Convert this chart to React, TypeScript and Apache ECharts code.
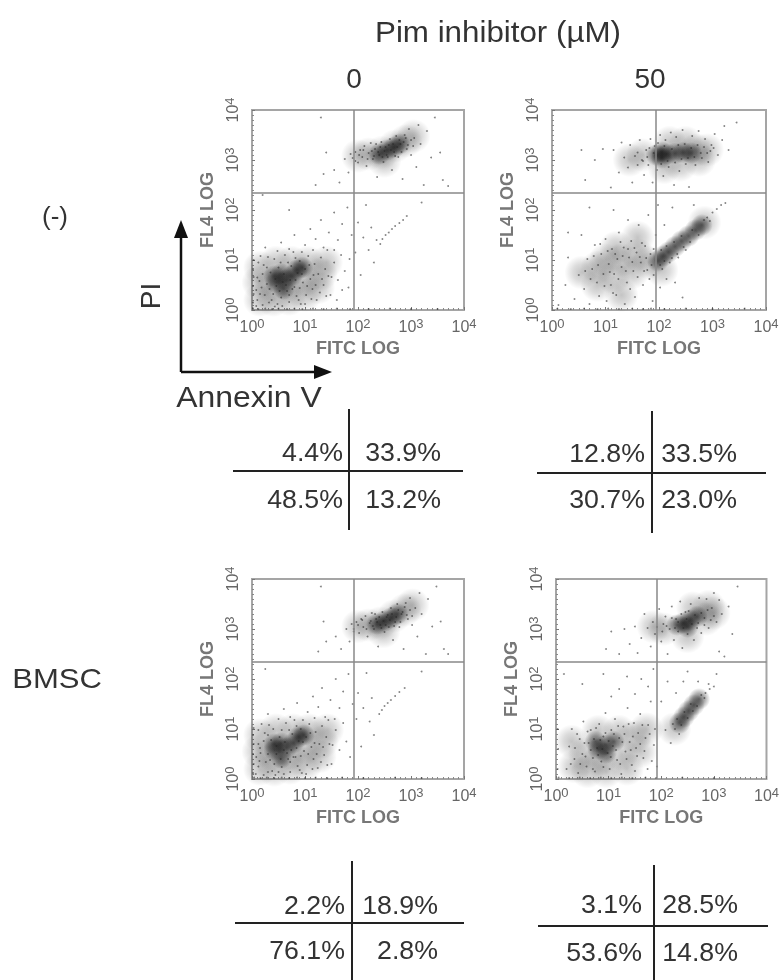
import React, { useEffect, useRef } from "react";
import * as echarts from "echarts";

const decades = [0, 1, 2, 3, 4];
const xAxisName = "FITC LOG";
const yAxisName = "FL4 LOG";
const title = "Pim inhibitor (µM)";
const doses = ["0", "50"];
const rowLabels = ["(-)", "BMSC"];
const pctA = ["4.4%", "33.9%", "48.5%", "13.2%"];
const pctB = ["12.8%", "33.5%", "30.7%", "23.0%"];
const pctC = ["2.2%", "18.9%", "76.1%", "2.8%"];
const pctD = ["3.1%", "28.5%", "53.6%", "14.8%"];
// quadrant gates, [FITC decade, FL4 decade]
const gateA = [1.92, 2.34];
const gateB = [1.94, 2.34];
const gateC = [1.92, 2.34];
const gateD = [1.92, 2.34];

// densest regions of each dot plot
const coreA = [[.45,.55],[.55,.72],[.65,.6],[.75,.68],[.85,.8],[.95,.85],[.6,.42],[.42,.68],[2.4,3.12],[2.55,3.2],[2.68,3.25],[2.78,3.32]];
const haloA = [[.15,.2],[.4,.2],[.7,.22],[1,.3],[1.25,.45],[.12,.55],[.35,.5],[.7,.5],[1,.6],[1.3,.72],[.15,.85],[.45,.95],[.75,.95],[1.05,.95],[1.4,.95],[2,3.08],[2.2,3.12],[2.45,3.15],[2.7,3.28],[2.9,3.38],[3.05,3.48],[2.5,2.98]];
const coreB = [[1.95,3.1],[2.05,3.16],[2.15,3.12],[2.3,3.13],[2.05,3.04],[2.45,3.15],[2.6,3.14],[1.98,.98],[2.08,1.08],[2.18,1.16],[2.3,1.27],[2.42,1.38],[2.55,1.48],[2.68,1.6],[2.8,1.7]];
const haloB = [[1.7,3.1],[1.45,3],[2.7,3.2],[2.9,3.2],[2.2,3.35],[2.5,3.35],[2.1,2.85],[2.4,2.9],[2.75,3],[1.3,1],[1,1],[.85,.85],[1.6,1.1],[1.2,1.25],[1.5,.75],[1.15,.65],[.85,.5],[1.3,.3],[1.8,.95],[2.05,.8],[2.85,1.75],[.55,.75],[1.6,1.45]];
const coreC = [[.42,.58],[.55,.72],[.65,.62],[.78,.72],[.88,.84],[.98,.88],[.55,.42],[.42,.7],[2.36,3.1],[2.5,3.16],[2.63,3.22],[2.74,3.3]];
const haloC = [[.15,.2],[.42,.18],[.72,.22],[1.02,.3],[1.28,.45],[.12,.55],[.35,.5],[.72,.5],[1.02,.62],[1.32,.74],[.15,.88],[.45,.98],[.78,.98],[1.08,.98],[1.42,.98],[2,3.05],[2.2,3.08],[2.42,3.12],[2.68,3.26],[2.88,3.38],[3.03,3.48],[2.48,2.95]];
const coreD = [[2.3,3.08],[2.42,3.12],[2.55,3.18],[2.68,3.25],[2.5,3.04],[2.35,1.12],[2.43,1.24],[2.52,1.36],[2.62,1.48],[2.72,1.6],[.8,.6],[.95,.68],[1.1,.75],[.95,.52],[.75,.75]];
const haloD = [[2.05,3],[1.85,3.05],[2.85,3.2],[3,3.32],[2.6,3.42],[2.9,3.45],[2.5,2.85],[.55,.5],[.85,.4],[1.25,.5],[1.2,.95],[.8,.95],[1.5,.85],[.35,.25],[.95,.15],[.3,.75],[1.6,.55],[1.72,1],[2.25,1],[.6,.15],[1.35,.2]];

// individual events, read as [FITC decade, FL4 decade]
const dotsA = [
[.02,.03],[.12,.02],[.25,.03],[.38,.02],[.5,.03],[.66,.02],[.8,.03],[.95,.02],[1.15,.03],[1.35,.02],[1.6,.03],[1.85,.02],[2.2,.02],[2.6,.03],[3,.02],[3.5,.02],
[.02,.15],[.03,.32],[.02,.48],[.03,.66],[.02,.82],[.03,1],[.1,.2],[.18,.45],[.1,.65],[.22,.9],[.32,.15],[.28,.52],[.35,.75],[.4,.32],[.42,1.02],[.48,.12],[.46,.48],[.5,.85],[.55,.25],[.58,.56],[.6,.72],[.62,1.1],[.66,.38],[.7,.16],[.72,.6],[.74,.88],[.78,1.16],[.8,.46],[.84,.28],[.86,.74],[.9,.98],[.92,.12],[.96,.55],[1,.82],[1.02,.3],[1.06,1.08],[1.1,.62],[1.14,.42],[1.18,.92],[1.22,.2],[1.25,.72],[1.3,1.05],[1.35,.5],[1.38,.82],[1.42,1.2],[1.48,.3],[1.5,.66],[1.55,.95],[1.62,.6],[1.68,1.1],[1.75,.78],[1.82,.45],[1.84,1.02],
[.25,1.25],[.55,1.35],[.8,1.5],[1,1.3],[1.1,1.62],[1.2,1.42],[1.3,1.8],[1.45,1.55],[1.55,1.95],[1.62,1.4],[1.7,1.72],[1.8,2.05],[1.88,1.5],[1.95,1.15],[2,1.75],[2.05,.7],[2.1,1.45],[2.15,2.1],[2.2,1.2],[2.25,1.65],[2.3,.95],[2.35,1.4],[2.42,1.32],[2.46,1.42],[2.52,1.5],[2.58,1.55],[2.64,1.62],[2.7,1.68],[2.78,1.74],[2.85,1.8],[2.92,1.88],[3.2,2.15],[.2,2.3],[.7,2],
[1.2,2.5],[1.35,2.72],[1.4,3.15],[1.3,3.85],[1.55,2.8],[1.65,2.55],[1.75,3.02],[1.82,2.75],[1.86,3.12],[1.9,3.04],[1.95,3.16],[2,2.95],[2.04,3.2],[2.08,3.06],[2.12,3.28],[2.16,2.88],[2.2,3.14],[2.24,3.34],[2.28,3.02],[2.32,3.22],[2.36,2.66],[2.4,3.1],[2.44,3.36],[2.48,2.96],[2.52,3.26],[2.56,3.06],[2.6,3.42],[2.64,2.8],[2.68,3.16],[2.72,3.48],[2.76,3.06],[2.8,3.32],[2.84,2.62],[2.88,3.5],[2.92,3.22],[2.96,3.62],[3,3.1],[3.06,3.44],[3.1,2.86],[3.14,3.7],[3.18,3.32],[3.24,2.5],[3.3,3.58],[3.38,3.05],[3.45,3.85],[3.55,3.15],[3.6,2.6],[3.7,2.48],
[.08,.08],[.15,.32],[.2,.1],[.24,.3],[.08,.4],[.14,.58],[.2,.72],[.28,.85],[.33,.42],[.37,.2],[.43,.07],[.44,.62],[.52,.38],[.54,.95],[.57,.08],[.64,.5],[.68,.95],[.7,.3],[.76,.42],[.82,.6],[.82,1.04],[.88,.2],[.9,.44],[.94,.72],[1,.12],[1.04,.48],[1.08,.9],[1.12,.22],[1.16,.7],[1.2,.5],[1.28,.35],[1.32,.62],[1.4,.28],[1.44,.68],[.12,.95],[.16,1.08],[.3,1.06],[.48,1.18],[.7,1.22],[.94,1.16],[1.15,1.2],[1.35,1.25],[1.55,1.2],[1.7,.4],[1.6,.2],
[1.95,2.98],[2.02,3.1],[2.1,3.2],[2.18,3.02],[2.26,3.18],[2.3,3.08],[2.34,3.32],[2.38,3.16],[2.42,3.26],[2.46,3.06],[2.5,3.18],[2.54,3.1],[2.58,3.3],[2.62,3.2],[2.66,3.32],[2.7,3.08],[2.74,3.26],[2.78,3.4],[2.82,3.16],[2.86,3.36],[2.9,3.44],[2.94,3.3],[3,3.4],[3.04,3.28]];
const dotsB = [
[.1,.03],[.35,.02],[.6,.03],[.85,.02],[1.05,.03],[1.25,.02],[1.5,.03],[1.7,.02],[1.85,.03],[2.1,.02],[2.5,.03],[3,.02],[3.6,.03],
[.12,.1],[.25,.5],[.3,1.05],[.42,.22],[.5,.7],[.55,1.5],[.6,.42],[.66,1.02],[.7,.12],[.75,.82],[.8,1.3],[.84,.55],[.88,.28],[.92,1.12],[.96,.72],[1,1.42],[1.02,.18],[1.06,.92],[1.1,.5],[1.12,1.22],[1.16,.72],[1.2,.3],[1.22,1.02],[1.25,1.55],[1.3,.86],[1.34,1.25],[1.36,.12],[1.4,.55],[1.44,1.05],[1.48,1.38],[1.52,.78],[1.55,.26],[1.58,1.15],[1.62,1.7],[1.66,.95],[1.7,.5],[1.74,1.28],[1.78,.8],[1.8,1.9],[1.84,1.12],[1.88,.18],[1.9,.7],[1.94,1.5],[1.98,2.1],[2.02,.45],[2.06,.82],[2.1,1.7],[2.14,.62],[2.2,.95],[2.25,2.05],[2.3,.55],[2.36,1.05],[2.44,.25],[2.5,1.2],[2.9,1.85],[3,1.95],[3.08,2.02],[3.16,2.1],[3.24,2.14],[2.65,2.1],[.3,1.55],[.7,2.05],[1.15,2],[1.42,1.8],
[.55,3.2],[.62,2.6],[.8,3],[.95,3.22],[1.1,2.45],[1.15,3.2],[1.25,2.75],[1.3,3.35],[1.35,3.05],[1.42,2.85],[1.46,3.3],[1.5,2.55],[1.55,3.08],[1.6,2.9],[1.64,3.4],[1.68,3],[1.72,2.7],[1.76,3.2],[1.8,2.9],[1.84,3.42],[1.88,2.55],[1.92,3.28],[1.96,2.8],[2.02,3.5],[2.08,2.68],[2.12,3.4],[2.18,2.86],[2.22,3.55],[2.28,2.5],[2.32,3.46],[2.38,2.78],[2.44,3.6],[2.5,2.92],[2.56,2.46],[2.62,3.48],[2.68,2.9],[2.74,3.58],[2.8,3.04],[2.86,3.42],[2.92,2.96],[2.98,3.3],[3.04,3.52],[3.1,3.1],[3.18,3.4],[3.22,3.68],[3.3,3.2],[3.45,3.75],
[.62,.78],[.72,.62],[.78,1.08],[.86,.9],[.9,1.32],[.98,.48],[1.04,1.18],[1.08,.76],[1.14,.34],[1.18,1.12],[1.24,.62],[1.28,1.36],[1.32,1.08],[1.38,.78],[1.42,1.22],[1.46,.42],[1.5,.96],[1.54,1.24],[1.6,.66],[1.64,1.06],[1.68,1.34],[1.72,.78],[1.76,1.04],[1.82,.62],[1.86,.9],[1.9,1.22],
[1.6,3.15],[1.7,2.98],[1.78,3.06],[1.82,3.24],[1.9,3.14],[1.98,3.34],[2.04,2.92],[2.1,3.28],[2.16,2.98],[2.24,3.22],[2.3,2.95],[2.36,3.3],[2.42,3.02],[2.48,3.32],[2.54,3.04],[2.6,3.24],[2.66,3.06],[2.72,3.3],[2.78,3.14],[2.84,3.26],[2.9,3.14],[2.96,3.18],[3.02,3.24],
[2.02,.9],[2.1,.98],[2.04,1.2],[2.14,1.28],[2.24,1.04],[2.28,1.36],[2.34,1.12],[2.42,1.48],[2.46,1.26],[2.58,1.36],[2.62,1.6],[2.74,1.5],[2.84,1.8],[2.95,1.78]];
const dotsC = [
[.04,.03],[.16,.02],[.28,.03],[.42,.02],[.56,.03],[.7,.02],[.85,.03],[1,.02],[1.2,.03],[1.42,.02],[1.7,.03],[2.1,.02],[2.7,.03],[3.2,.02],
[.02,.12],[.03,.3],[.02,.5],[.03,.7],[.02,.88],[.03,1.02],[.12,.25],[.16,.52],[.12,.7],[.24,.92],[.3,.14],[.3,.5],[.36,.78],[.42,.3],[.4,1],[.5,.14],[.46,.5],[.52,.84],[.56,.24],[.6,.58],[.62,.74],[.64,1.12],[.68,.4],[.72,.14],[.74,.58],[.76,.9],[.8,1.18],[.82,.44],[.86,.26],[.88,.76],[.92,1],[.94,.12],[.98,.56],[1.02,.84],[1.04,.28],[1.08,1.1],[1.12,.64],[1.16,.4],[1.2,.94],[1.24,.22],[1.27,.7],[1.32,1.06],[1.36,.48],[1.4,.84],[1.44,1.18],[1.5,.3],[1.52,.68],[1.58,.98],[1.65,.58],[1.72,1.12],[1.78,.75],[1.85,.44],
[.3,1.3],[.6,1.4],[.85,1.52],[1.05,1.34],[1.15,1.65],[1.25,1.44],[1.32,1.82],[1.48,1.58],[1.58,2],[1.65,1.42],[1.72,1.75],[1.82,2.1],[1.9,1.5],[1.97,1.2],[2,1.72],[2.06,.65],[2.1,1.42],[2.16,2.12],[2.22,1.15],[2.26,1.62],[2.3,.88],[2.4,1.3],[2.45,1.38],[2.5,1.46],[2.56,1.52],[2.62,1.58],[2.7,1.66],[2.78,1.74],[2.88,1.82],[3.2,2.15],[.25,2.2],
[1.25,2.55],[1.4,2.75],[1.35,3.15],[1.3,3.85],[1.58,2.85],[1.68,2.6],[1.78,3],[1.84,2.75],[1.88,3.1],[1.92,3],[1.97,3.14],[2.02,2.92],[2.06,3.2],[2.1,3.04],[2.14,3.26],[2.18,2.85],[2.22,3.12],[2.26,3.32],[2.3,3],[2.34,3.2],[2.38,2.65],[2.42,3.08],[2.46,3.34],[2.5,2.94],[2.54,3.24],[2.58,3.04],[2.62,3.42],[2.66,2.78],[2.7,3.14],[2.74,3.5],[2.78,3.04],[2.82,3.3],[2.86,2.6],[2.9,3.52],[2.94,3.2],[2.98,3.62],[3.02,3.08],[3.08,3.42],[3.12,2.85],[3.16,3.72],[3.2,3.3],[3.28,2.5],[3.32,3.6],[3.4,3.05],[3.48,3.85],[3.56,3.15],[3.62,2.6],[3.7,2.5],
[.07,.1],[.14,.36],[.22,.08],[.26,.34],[.08,.44],[.15,.62],[.22,.76],[.3,.88],[.34,.38],[.38,.16],[.44,.08],[.46,.66],[.54,.4],[.56,.98],[.6,.1],[.66,.52],[.7,.98],[.72,.34],[.78,.44],[.84,.62],[.84,1.06],[.9,.18],[.92,.46],[.96,.74],[1.02,.1],[1.06,.5],[1.1,.92],[1.14,.2],[1.18,.72],[1.22,.5],[1.3,.34],[1.34,.64],[1.42,.28],[1.46,.7],[.12,.98],[.18,1.1],[.32,1.08],[.5,1.2],[.72,1.24],[.96,1.18],[1.18,1.22],[1.38,1.24],[1.56,1.2],
[1.92,2.95],[2,3.08],[2.08,3.18],[2.16,3],[2.24,3.16],[2.28,3.06],[2.32,3.3],[2.36,3.14],[2.4,3.24],[2.44,3.02],[2.48,3.16],[2.52,3.08],[2.56,3.28],[2.6,3.18],[2.64,3.3],[2.68,3.06],[2.72,3.24],[2.76,3.38],[2.8,3.14],[2.84,3.34],[2.88,3.44],[2.92,3.28],[2.98,3.38],[3.02,3.26]];
const dotsD = [
[.05,.03],[.25,.02],[.45,.03],[.65,.02],[.85,.03],[1.05,.02],[1.25,.03],[1.45,.02],[1.7,.03],[1.9,.02],[2.4,.03],[3,.02],
[.03,.2],[.04,.6],[.03,1],[.2,.2],[.25,.65],[.3,1],[.35,.4],[.42,.12],[.45,.8],[.5,.5],[.52,1.15],[.58,.25],[.62,.72],[.66,.98],[.7,.42],[.74,.15],[.78,.62],[.82,1.1],[.86,.35],[.9,.85],[.94,1.32],[.98,.52],[1.02,.2],[1.05,.98],[1.08,.66],[1.12,1.2],[1.16,.38],[1.2,.82],[1.24,.1],[1.28,1.05],[1.32,.55],[1.36,1.42],[1.4,.74],[1.44,.28],[1.48,1.12],[1.52,.62],[1.56,.92],[1.6,1.3],[1.66,.42],[1.7,.82],[1.75,1.08],[1.8,1.55],[1.86,.68],[1.88,1],[1.92,.25],
[.15,2.1],[.5,1.9],[.9,2.1],[1.05,1.65],[1.2,1.8],[1.35,2.05],[1.5,1.7],[1.62,2],[1.75,1.85],[1.85,2.2],[2,1.55],[2.08,.98],[2.12,1.95],[2.18,.72],[2.22,1.1],[2.28,1.72],[2.34,.9],[2.42,1.95],[2.5,2.15],[2.7,1.95],[2.9,1.9],[3,1.85],[2.84,1.72],[2.92,1.8],[3.05,2.1],
[.95,2.6],[1.05,2.95],[1.2,2.5],[1.3,3],[1.4,2.7],[1.5,3.05],[1.55,2.52],[1.62,2.82],[1.68,3.3],[1.74,3.02],[1.8,2.65],[1.84,3.14],[1.88,2.9],[1.92,3.04],[1.96,3.4],[2,2.75],[2.04,3.1],[2.08,3.25],[2.12,2.5],[2.16,3],[2.2,3.45],[2.24,2.78],[2.28,3.2],[2.32,2.95],[2.36,3.55],[2.4,2.62],[2.46,3.34],[2.5,2.9],[2.56,3.5],[2.62,2.78],[2.68,3.02],[2.72,3.62],[2.76,2.92],[2.82,3.08],[2.86,3.6],[2.9,3.02],[2.96,3.42],[3,3.72],[3.05,3.14],[3.1,3.58],[3.15,3.3],[3.2,2.45],[3.28,3.45],[3.35,2.9],[3.45,3.85],[3.1,2.55],
[.28,.3],[.36,.62],[.4,.9],[.46,.3],[.54,.72],[.56,.45],[.6,.95],[.66,.58],[.7,.2],[.72,.8],[.76,1.02],[.8,.48],[.84,.78],[.88,.6],[.9,.24],[.94,.92],[1,.76],[1.04,.44],[1.1,.9],[1.14,.58],[1.18,1.06],[1.22,.3],[1.26,.74],[1.3,.9],[1.34,.4],[1.38,1.1],[1.42,.58],[1.46,.85],[1.5,.16],[1.54,.46],[1.6,.7],[1.64,1.08],[1.68,.56],[1.74,.2],[1.78,.9],[1.82,.36],
[2.02,2.95],[2.1,3.06],[2.2,3.22],[2.26,3.02],[2.32,3.14],[2.38,3.3],[2.42,3.02],[2.48,3.2],[2.52,3.36],[2.58,3.1],[2.64,3.28],[2.7,3.12],[2.76,3.32],[2.82,3.22],[2.88,3.38],[2.94,3.18],[3,3.26],
[2.26,1],[2.3,1.2],[2.38,1.08],[2.44,1.34],[2.5,1.22],[2.56,1.5],[2.6,1.36],[2.68,1.46],[2.76,1.68],[2.82,1.62]];

const panelFrames = [
  { left: 252, top: 110, width: 212, height: 200 },
  { left: 552, top: 110, width: 214, height: 200 },
  { left: 252, top: 579, width: 212, height: 200 },
  { left: 556, top: 579, width: 212, height: 200 },
];
const tableFrames = [
  { cx: 349, cy: 471, y0: 409, y1: 530, x0: 233, x1: 463, dyU: -19, dyL: 29, ll: 343, rr: 441 },
  { cx: 652, cy: 473, y0: 411, y1: 533, x0: 537, x1: 766, dyU: -20, dyL: 27, ll: 645, rr: 737 },
  { cx: 352, cy: 923, y0: 861, y1: 980, x0: 235, x1: 464, dyU: -18, dyL: 28, ll: 345, rr: 438 },
  { cx: 654, cy: 926, y0: 865, y1: 980, x0: 538, x1: 768, dyU: -22, dyL: 27, ll: 642, rr: 738 },
];
const gates = [gateA, gateB, gateC, gateD];
const cores = [coreA, coreB, coreC, coreD];
const halos = [haloA, haloB, haloC, haloD];
const dots = [dotsA, dotsB, dotsC, dotsD];
const pcts = [pctA, pctB, pctC, pctD];

const FONT = "Liberation Sans, Arial, sans-serif";
const shade = (a: number) => ({
  type: "radial", x: 0.5, y: 0.5, r: 0.5,
  colorStops: [{ offset: 0, color: `rgba(10,10,10,${a})` }, { offset: 0.5, color: `rgba(10,10,10,${a * 0.6})` }, { offset: 1, color: "rgba(10,10,10,0)" }],
});

function buildOption() {
  const tickRich = {
    b: { fontSize: 16, color: "#666", fontFamily: FONT },
    s: { fontSize: 13, color: "#666", fontFamily: FONT, verticalAlign: "bottom", padding: [0, 0, 6, 0] },
  };
  const fmt = (v: number) => `{b|10}{s|${v}}`;
  const series: any[] = [];
  panelFrames.forEach((_, i) => {
    const base = { type: "scatter", xAxisIndex: i, yAxisIndex: i, clip: true, silent: true };
    series.push({ ...base, data: halos[i], symbolSize: 34, itemStyle: { color: shade(0.3) } });
    series.push({ ...base, data: cores[i], symbolSize: 22, itemStyle: { color: shade(0.72) } });
    series.push({
      ...base, data: dots[i], symbolSize: 1.9, itemStyle: { color: "#222", opacity: 0.55 },
      markLine: {
        silent: true, symbol: "none", animation: false, label: { show: false },
        lineStyle: { color: "#888", width: 1.5, type: "solid" },
        data: [{ xAxis: gates[i][0] }, { yAxis: gates[i][1] }],
      },
    });
  });
  const graphic: any[] = [];
  const text = (t: string, x: number, y: number, size: number, align = "center", rotation = 0, scaleX = 1) =>
    graphic.push({ type: "text", x, y, rotation, scaleX, style: { text: t, fontSize: size, fontFamily: FONT, fill: "#333", align, verticalAlign: "middle" } });
  text(title, 498, 32, 29, "center", 0, 1.08);
  text(doses[0], 354, 78, 28);
  text(doses[1], 650, 78, 28);
  text(rowLabels[0], 55, 216, 26);
  text(rowLabels[1], 57, 679, 27, "center", 0, 1.15);
  text("PI", 150, 296, 28, "center", Math.PI / 2);
  text("Annexin V", 249, 397, 29, "center", 0, 1.1);
  const ink = { stroke: "#111", lineWidth: 2.5 };
  graphic.push({ type: "line", shape: { x1: 181, y1: 372, x2: 181, y2: 236 }, style: ink });
  graphic.push({ type: "line", shape: { x1: 181, y1: 372, x2: 316, y2: 372 }, style: ink });
  graphic.push({ type: "polygon", shape: { points: [[181, 220], [174, 238], [188, 238]] }, style: { fill: "#111" } });
  graphic.push({ type: "polygon", shape: { points: [[332, 372], [314, 365], [314, 379]] }, style: { fill: "#111" } });
  tableFrames.forEach((f, i) => {
    const line = { stroke: "#222", lineWidth: 2 };
    graphic.push({ type: "line", shape: { x1: f.cx, y1: f.y0, x2: f.cx, y2: f.y1 }, style: line });
    graphic.push({ type: "line", shape: { x1: f.x0, y1: f.cy, x2: f.x1, y2: f.cy }, style: line });
    text(pcts[i][0], f.ll, f.cy + f.dyU, 25, "right", 0, 1.07);
    text(pcts[i][1], f.rr, f.cy + f.dyU, 25, "right", 0, 1.07);
    text(pcts[i][2], f.ll, f.cy + f.dyL - 1, 25, "right", 0, 1.07);
    text(pcts[i][3], f.rr, f.cy + f.dyL - 1, 25, "right", 0, 1.07);
  });
  return {
    animation: false,
    backgroundColor: "#fff",
    grid: panelFrames.map((f) => ({ ...f, show: true, borderColor: "#a5a5a5", borderWidth: 2, backgroundColor: "transparent" })),
    xAxis: panelFrames.map((_, i) => ({
      type: "value", gridIndex: i, min: decades[0], max: decades[4], interval: 1,
      name: xAxisName, nameLocation: "middle", nameGap: 29,
      nameTextStyle: { fontSize: 18, color: "#777", fontFamily: FONT, fontWeight: "bold" },
      axisLine: { show: false }, splitLine: { show: false },
      axisTick: { show: true, inside: true, length: 3, lineStyle: { color: "#777" } },
      minorTick: { show: true, splitNumber: 10, length: 2, lineStyle: { color: "#888" } },
      axisLabel: { formatter: fmt, rich: tickRich, margin: 7, hideOverlap: false, showMinLabel: true, showMaxLabel: true },
    })),
    yAxis: panelFrames.map((_, i) => ({
      type: "value", gridIndex: i, min: decades[0], max: decades[4], interval: 1,
      name: yAxisName, nameLocation: "middle", nameGap: 36,
      nameTextStyle: { fontSize: 18, color: "#777", fontFamily: FONT, fontWeight: "bold" },
      axisLine: { show: false }, splitLine: { show: false },
      axisTick: { show: true, inside: true, length: 3, lineStyle: { color: "#777" } },
      minorTick: { show: true, splitNumber: 10, length: 2, lineStyle: { color: "#888" } },
      axisLabel: { formatter: fmt, rich: tickRich, rotate: 90, margin: 10, hideOverlap: false, showMinLabel: true, showMaxLabel: true },
    })),
    series,
    graphic,
  };
}

export default function App() {
  const ref = useRef<HTMLDivElement>(null);
  useEffect(() => {
    const chart = echarts.init(ref.current!, null, { renderer: "svg" });
    chart.setOption(buildOption() as any);
    return () => chart.dispose();
  }, []);
  return (
    <div
      ref={ref}
      style={{ position: "absolute", left: 0, top: 0, width: 782, height: 980, filter: "blur(0.7px)" }}
    />
  );
}
